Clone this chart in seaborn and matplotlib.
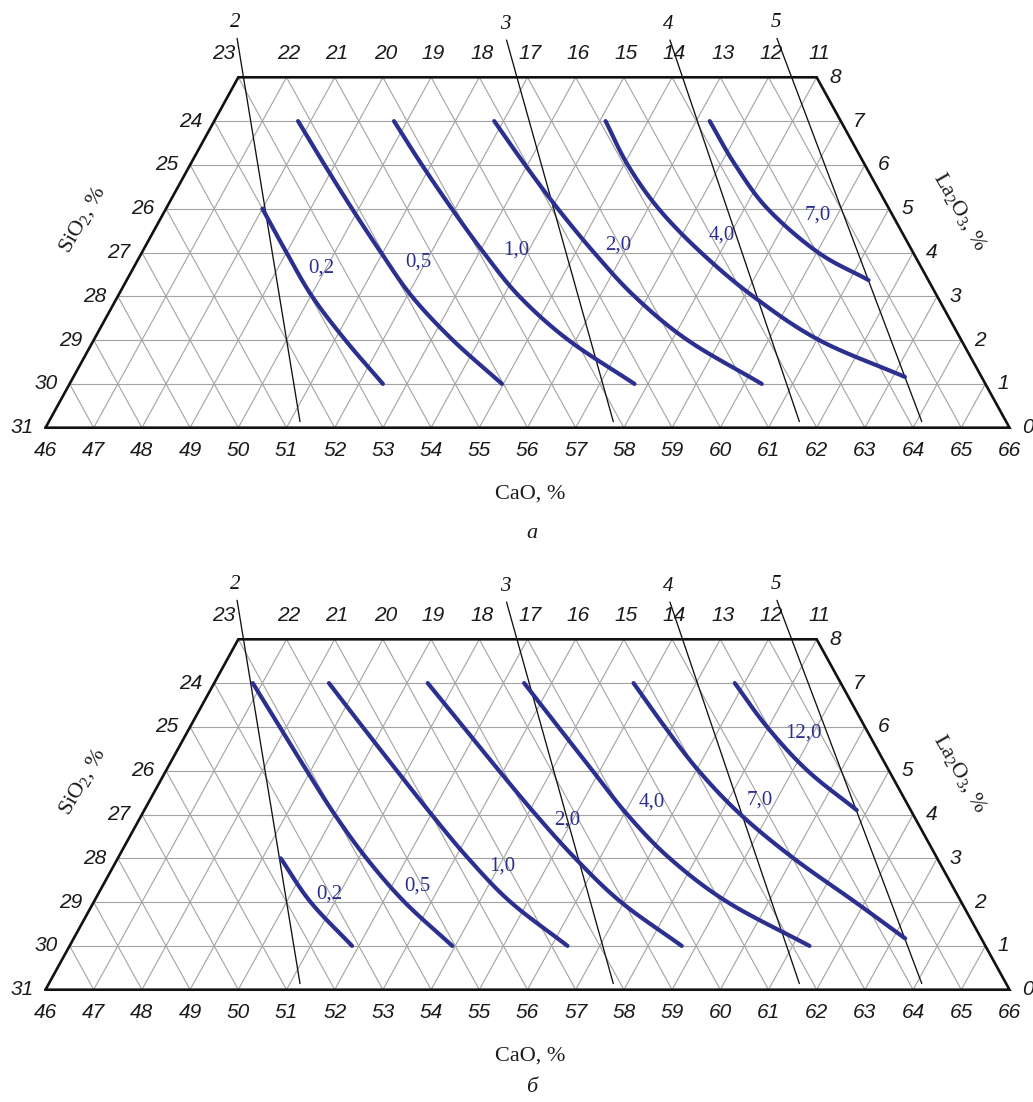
import numpy as np
import matplotlib
matplotlib.use("Agg")
import matplotlib.pyplot as plt
import seaborn as sns

# ------------------------------------------------------------------ data
CAO_TICKS = list(range(46, 67))            # bottom edge, CaO %
SIO2_LEFT_TICKS = list(range(24, 32))      # left edge, SiO2 %
SIO2_TOP_TICKS = list(range(11, 23))       # top edge, SiO2 %
SIO2_CORNER_TICK = 23
LA2O3_TICKS = list(range(0, 9))            # right edge, La2O3 %

# straight reference lines 2..5 (same in both panels): ends as (CaO, La2O3)
ref_names = ["2", "3", "4", "5"]
ref_top_cao = [45.53, 51.14, 54.53, 56.73]
ref_top_la = [8.89, 8.85, 8.85, 8.89]
ref_bot_cao = [51.21, 57.71, 61.57, 64.11]
ref_bot_la = [0.14, 0.14, 0.14, 0.14]

# panel a iso-lines: La2O3 levels and CaO read at those levels
a_names = ["0,2", "0,5", "1,0", "2,0", "4,0", "7,0"]
a_la = [
    [5, 4, 3, 2, 1],
    [7, 6, 5, 4, 3, 2, 1],
    [7, 6, 5, 4, 3, 2, 1],
    [7, 6, 5, 4, 3, 2, 1],
    [7, 6, 5, 4, 3, 2, 1.16],
    [7, 6, 5, 4, 3.37],
]
a_cao = [
    [48.0, 49.0, 50.03, 51.22, 52.5],
    [47.74, 48.79, 49.86, 50.96, 52.10, 53.45, 54.97],
    [49.73, 50.81, 51.93, 53.09, 54.33, 55.85, 57.72],
    [51.81, 52.95, 54.13, 55.38, 56.72, 58.32, 60.36],
    [54.12, 55.08, 56.22, 57.60, 59.18, 61.05, 63.25],
    [56.28, 57.31, 58.48, 60.03, 61.39],
]

# panel б iso-lines
b_names = ["0,2", "0,5", "1,0", "2,0", "4,0", "7,0", "12,0"]
b_la = [
    [3, 2, 1],
    [7, 6, 5, 4, 3, 2, 1],
    [7, 6, 5, 4, 3, 2, 1],
    [7, 6, 5, 4, 3, 2, 1],
    [7, 6, 5, 4, 3, 2, 1],
    [7, 6, 5, 4, 3, 2, 1.17],
    [7, 6, 5, 4.1],
]
b_cao = [
    [49.38, 50.5, 51.86],
    [46.80, 47.86, 48.92, 50.00, 51.16, 52.45, 53.94],
    [48.38, 49.58, 50.79, 52.01, 53.27, 54.65, 56.33],
    [50.43, 51.67, 52.91, 54.17, 55.49, 56.94, 58.70],
    [52.43, 53.64, 54.85, 56.07, 57.45, 59.15, 61.35],
    [54.70, 55.85, 57.05, 58.42, 60.02, 61.80, 63.25],
    [56.8, 57.97, 59.31, 60.78],
]

# ------------------------------------------------------------------ layout
a_label_pos = [(49.91, 3.64), (51.84, 3.79), (53.75, 4.05), (55.80, 4.17), (57.83, 4.40), (59.60, 4.86)]
b_label_pos = [(50.79, 2.18), (52.53, 2.37), (54.07, 2.83), (54.89, 3.87), (56.44, 4.29), (58.65, 4.33), (58.78, 5.87)]

sns.set_theme(style="white")
plt.rcParams['font.family'] = ['Liberation Sans', 'DejaVu Sans']
plt.rcParams['mathtext.fontset'] = 'custom'
plt.rcParams['mathtext.rm'] = 'Liberation Serif'
plt.rcParams['mathtext.it'] = 'Liberation Serif:italic'

W, H = 1033, 1102
fig = plt.figure(figsize=(W / 100, H / 100), dpi=100)
fig.patch.set_facecolor('white')

PX0, PXU, PYU = 45.5, 48.2, 43.8
BLUE = '#2b3090'
GRID_C = '#a3a3a3'
SERIF = ['Liberation Serif', 'DejaVu Serif']


def proj(cao, la):
    cao = np.asarray(cao, float)
    la = np.asarray(la, float)
    return cao - 46 + la / 2.0, la


def smooth(xs, ys, n=16):
    pts = np.column_stack([xs, ys])
    if len(pts) < 3:
        return xs, ys
    P = np.vstack([2 * pts[0] - pts[1], pts, 2 * pts[-1] - pts[-2]])
    t = np.linspace(0, 1, n, endpoint=False)[:, None]
    out = []
    for i in range(1, len(P) - 2):
        p0, p1, p2, p3 = P[i - 1], P[i], P[i + 1], P[i + 2]
        seg = 0.5 * (2 * p1 + (-p0 + p2) * t + (2 * p0 - 5 * p1 + 4 * p2 - p3) * t ** 2
                     + (-p0 + 3 * p1 - 3 * p2 + p3) * t ** 3)
        out.append(seg)
    out.append(pts[-1][None, :])
    out = np.vstack(out)
    return out[:, 0], out[:, 1]


def make_axes(py_base, top_px, bottom_px):
    ax = fig.add_axes([0, 1 - bottom_px / H, 1, (bottom_px - top_px) / H])
    ax.set_xlim((0 - PX0) / PXU, (W - PX0) / PXU)
    ax.set_ylim((py_base - bottom_px) / PYU, (py_base - top_px) / PYU)
    ax.axis('off')
    return ax


def draw_panel(ax, names, las, caos, label_pos):
    # grid
    for la in range(1, 8):
        xs, ys = proj([46, 66 - la], [la, la])
        ax.plot(xs, ys, color=GRID_C, lw=0.8, zorder=1)
    for c in range(47, 66):
        top = min(8, 66 - c)
        xs, ys = proj([c, c], [0, top])
        ax.plot(xs, ys, color=GRID_C, lw=0.8, zorder=1)
    for s in range(12, 31):
        top = min(8, 31 - s)
        xs, ys = proj([77 - s, 77 - s - top], [0, top])
        ax.plot(xs, ys, color=GRID_C, lw=0.8, zorder=1)
    # frame
    xs, ys = proj([46, 66, 58, 46, 46], [0, 0, 8, 8, 0])
    ax.plot(xs, ys, color='#111111', lw=1.9, zorder=5, solid_joinstyle='miter')
    # reference lines
    for nm, tc, tl, bc, bl in zip(ref_names, ref_top_cao, ref_top_la, ref_bot_cao, ref_bot_la):
        xs, ys = proj([tc, bc], [tl, bl])
        ax.plot(xs, ys, color='#111111', lw=0.95, zorder=3)
        ax.text(xs[0] - 0.03, ys[0] + 16 / PYU, nm, ha='center', va='center',
                fontsize=15, style='italic', family=SERIF, color='#111111')
    # iso-lines
    for nm, la, cao, (lc, ll) in zip(names, las, caos, label_pos):
        xs, ys = proj(cao, la)
        sx, sy = smooth(xs, ys)
        sns.lineplot(x=sx, y=sy, ax=ax, color=BLUE, lw=3.0, sort=False,
                     estimator=None, zorder=4)
        tx, ty = proj(lc, ll)
        ax.text(tx, ty, nm, ha='center', va='center', fontsize=15,
                family=SERIF, color=BLUE, zorder=6)
    # tick labels
    for c in CAO_TICKS:
        x, y = proj(c, 0)
        ax.text(x, y - 23 / PYU, str(c), ha='center', va='center', fontsize=15,
                style='italic', color='#1a1a1a')
    for s in SIO2_LEFT_TICKS:
        x, y = proj(46, 31 - s)
        ax.text(x - 0.48, y, str(s), ha='center', va='center', fontsize=15,
                style='italic', color='#1a1a1a')
    x, y = proj(46, 8)
    ax.text(x - 0.3, y + 24 / PYU, str(SIO2_CORNER_TICK), ha='center', va='center',
            fontsize=15, style='italic', color='#1a1a1a')
    for s in SIO2_TOP_TICKS:
        x, y = proj(69 - s, 8)
        ax.text(x + 0.05, y + 24 / PYU, str(s), ha='center', va='center', fontsize=15,
                style='italic', color='#1a1a1a')
    for la in LA2O3_TICKS:
        x, y = proj(66 - la, la)
        ax.text(x + 0.38, y, str(la), ha='center', va='center', fontsize=15,
                style='italic', color='#1a1a1a')


ax_a = make_axes(427.7, 0, 551)
draw_panel(ax_a, a_names, a_la, a_cao, a_label_pos)
ax_b = make_axes(989.7, 551, 1102)
draw_panel(ax_b, b_names, b_la, b_cao, b_label_pos)


def ftext(px, py, s, **kw):
    fig.text(px / W, 1 - py / H, s, ha='center', va='center', family=SERIF,
             color='#1a1a1a', **kw)


for dy, tag, tag_y in [(0, 'а', 533), (562, 'б', 1088)]:
    ftext(530, 494 + dy, 'CaO, %', fontsize=16)
    ftext(532, tag_y, tag, fontsize=16, style='italic')
    ftext(82, 220 + dy, 'SiO$_2$, %', fontsize=16, rotation=60)
    ftext(960, 212 + dy, 'La$_2$O$_3$, %', fontsize=16, rotation=-60)

fig.savefig('out.png', dpi=100, facecolor='white')
